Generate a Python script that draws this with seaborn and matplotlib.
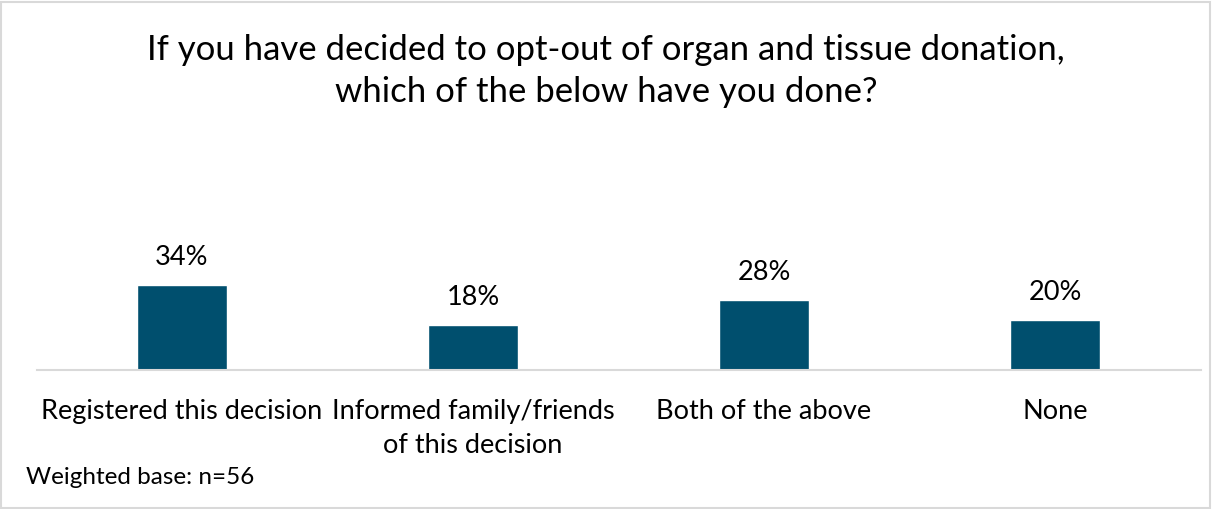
import matplotlib
matplotlib.use("Agg")
import matplotlib.pyplot as plt
import seaborn as sns
import pandas as pd
from matplotlib.patches import Rectangle

categories = ["Registered this decision", "Informed family/friends\nof this decision",
              "Both of the above", "None"]
values = [34, 18, 28, 20]
value_labels = ["34%", "18%", "28%", "20%"]
title = "If you have decided to opt-out of organ and tissue donation,\nwhich of the below have you done?"
footnote = "Weighted base: n=56"

sns.set_theme(style="white")
plt.rcParams['font.family'] = ['Lato', 'DejaVu Sans']

W, H = 1212, 509
fig = plt.figure(figsize=(W / 100, H / 100), dpi=100)
ax = fig.add_axes([36.5 / W, 1 - 370 / H, 1164 / W, 200 / H])

df = pd.DataFrame({"cat": categories, "val": values})
sns.barplot(data=df, x="cat", y="val", color="#004F6E", width=0.31, ax=ax,
            saturation=1)
ax.set_ylim(0, 80)
ax.set_xlim(-0.5, 3.5)
for i, (v, lab) in enumerate(zip(values, value_labels)):
    ax.text(i, v + 11, lab, ha="center", va="center", fontsize=19.5, color="#000000")

for s in ["top", "right", "left"]:
    ax.spines[s].set_visible(False)
ax.spines["bottom"].set_color("#D9D9D9")
ax.spines["bottom"].set_linewidth(1.5)
ax.set_yticks([])
ax.set_xlabel("")
ax.set_ylabel("")
ax.tick_params(axis="x", length=0, pad=21, labelsize=19.5, labelcolor="#000000")
for t in ax.get_xticklabels():
    t.set_linespacing(1.42)
    t.set_verticalalignment("top")

fig.text(606 / W, 1 - 71 / H, title, ha="center", va="center", fontsize=25,
         linespacing=1.35, color="#000000")
fig.text(26 / W, 1 - 478 / H, footnote, ha="left", va="center", fontsize=17.5,
         color="#000000")

fig.patches.append(Rectangle((1 / W, 1 / H), (W - 3) / W, (H - 3) / H,
                             transform=fig.transFigure, fill=False,
                             edgecolor="#D9D9D9", linewidth=1.5))
fig.savefig("out.png", dpi=100)
